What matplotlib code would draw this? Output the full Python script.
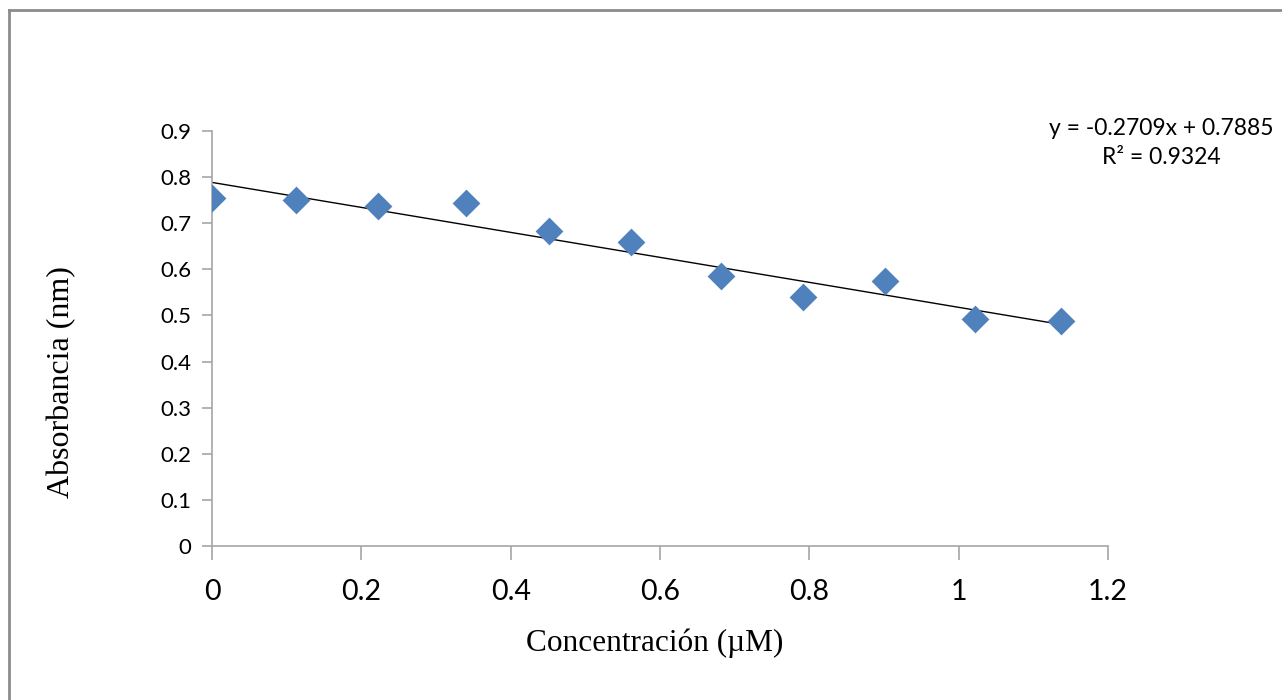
import numpy as np
import matplotlib
matplotlib.use("Agg")
import matplotlib.pyplot as plt
from matplotlib.lines import Line2D

# data
concentracion = [0.0, 0.112, 0.222, 0.34, 0.451, 0.561, 0.682, 0.791, 0.901, 1.022, 1.137]
absorbancia = [0.755, 0.750, 0.737, 0.744, 0.683, 0.659, 0.586, 0.540, 0.575, 0.492, 0.488]
slope = -0.2709
intercept = 0.7885
r2 = 0.9324

x_ticks = [0, 0.2, 0.4, 0.6, 0.8, 1, 1.2]
x_tick_labels = ["0", "0.2", "0.4", "0.6", "0.8", "1", "1.2"]
y_ticks = [0, 0.1, 0.2, 0.3, 0.4, 0.5, 0.6, 0.7, 0.8, 0.9]
y_tick_labels = ["0", "0.1", "0.2", "0.3", "0.4", "0.5", "0.6", "0.7", "0.8", "0.9"]

axis_gray = "#A6A6A6"
blue = "#4F81BD"

W, H = 1282, 700
fig = plt.figure(figsize=(W / 100, H / 100), dpi=100)
ax = fig.add_axes([212 / W, 1 - 546 / H, (1108 - 212) / W, (546 - 131) / H])

ax.scatter(concentracion, absorbancia, marker="D", s=200, color=blue, zorder=3, linewidths=0)

xfit = np.array([0, max(concentracion)])
ax.plot(xfit, slope * xfit + intercept, color="black", lw=1.0, zorder=2)

ax.set_xlim(0, 1.2)
ax.set_ylim(0, 0.9)
ax.set_xticks(x_ticks)
ax.set_xticklabels(x_tick_labels, fontfamily="Lato", fontsize=20.5)
ax.set_yticks(y_ticks)
ax.set_yticklabels(y_tick_labels, fontfamily="Lato", fontsize=16)

for s in ["top", "right"]:
    ax.spines[s].set_visible(False)
for s in ["left", "bottom"]:
    ax.spines[s].set_color(axis_gray)
    ax.spines[s].set_linewidth(1.2)
ax.tick_params(axis="x", direction="out", length=10, width=1.2, color=axis_gray, pad=14)
ax.tick_params(axis="y", direction="out", length=7, width=1.2, color=axis_gray, pad=8)

# axis titles (placed where they sit in the original)
fig.text(655 / W, 1 - 643 / H, "Concentración (µM)", ha="center", va="center",
         fontfamily="Liberation Serif", fontsize=22.5)
fig.text(62 / W, 1 - 382 / H, "Absorbancia (nm)", ha="center", va="center", rotation=90,
         fontfamily="Liberation Serif", fontsize=23)

fig.text(1161 / W, 1 - 143 / H, f"y = {slope}x + {intercept}\nR² = {r2}",
         ha="center", va="center", fontfamily="Lato", fontsize=16.5, linespacing=1.45)

# outer chart border (cut off at right and bottom)
fig.add_artist(Line2D([9 / W, 1.0], [1 - 10 / H, 1 - 10 / H], color="#8C8C8C", lw=2.0))
fig.add_artist(Line2D([9 / W, 9 / W], [0, 1 - 10 / H], color="#8C8C8C", lw=2.0))

fig.savefig("out.png", dpi=100)
